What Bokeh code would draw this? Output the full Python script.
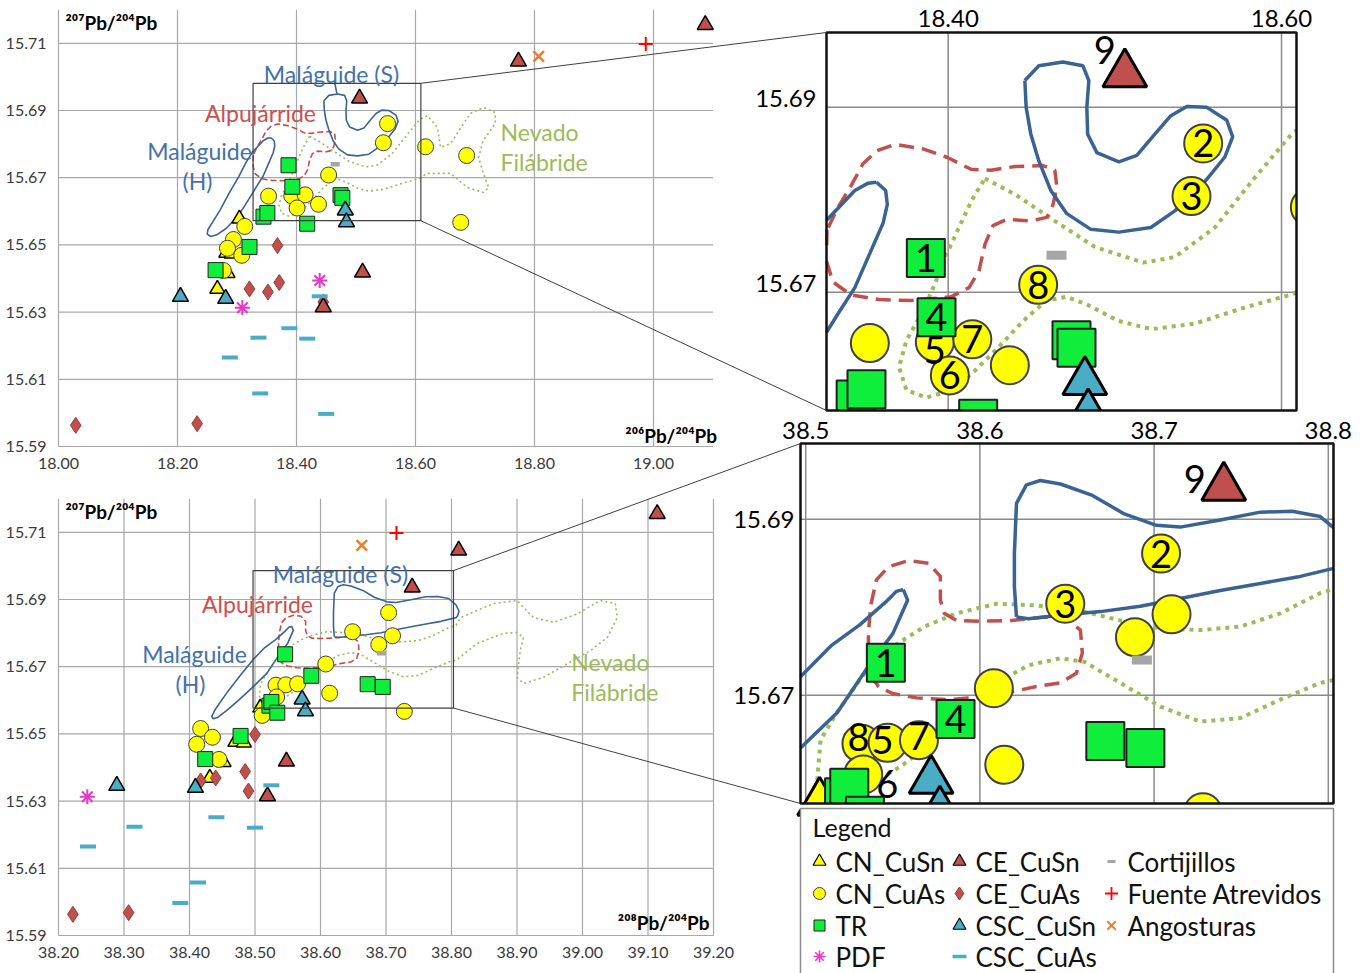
import numpy as np
from bokeh.plotting import figure
from bokeh.models import Range1d
from bokeh.core.properties import value
from bokeh.embed import file_html
from bokeh.resources import INLINE

# ------------------------------------------------------------------
# DATA  (206Pb/204Pb, 207Pb/204Pb, 208Pb/204Pb)
# ------------------------------------------------------------------
CN_CuSn_206 = [18.304, 18.284, 18.267, 18.282, 18.291]
CN_CuSn_207 = [15.6578, 15.6416, 15.6369, 15.6476, 15.6474]
CN_CuSn_208 = [38.508, 38.452, 38.431, 38.470, 38.483]

CN_CuAs_206 = [18.553, 18.546, 18.617, 18.686, 18.676, 18.454, 18.353, 18.392,
               18.4145, 18.401, 18.437, 18.313, 18.294, 18.284, 18.308, 18.277]
CN_CuAs_207 = [15.6861, 15.6804, 15.6792, 15.6766, 15.6567, 15.6708, 15.6645, 15.6646,
               15.6649, 15.6610, 15.6621, 15.6555, 15.6516, 15.6490, 15.6469, 15.6424]
CN_CuAs_208 = [38.704, 38.649, 38.710, 38.689, 38.728, 38.608, 38.532, 38.547,
               38.565, 38.533, 38.614, 38.511, 38.417, 38.435, 38.411, 38.445]

TR_206 = [18.3866, 18.393, 18.474, 18.477, 18.3445, 18.351, 18.418, 18.321, 18.264]
TR_207 = [15.6737, 15.6673, 15.6648, 15.6640, 15.6584, 15.6595, 15.6563, 15.6494, 15.6425]
TR_208 = [38.546, 38.586, 38.672, 38.695, 38.522, 38.525, 38.534, 38.478, 38.424]

PDF_206 = [18.309, 18.439]
PDF_207 = [15.6313, 15.6394]
PDF_208 = [38.244, float("nan")]

CE_CuSn_206 = [18.506, 18.773, 19.087, 18.511, 18.445]
CE_CuSn_207 = [15.6936, 15.7046, 15.7155, 15.6418, 15.6315]
CE_CuSn_208 = [38.740, 38.811, 39.114, 38.548, 38.519]

CE_CuAs_206 = [18.368, 18.321, 18.352, 18.371, 18.445, 18.029, 18.233]
CE_CuAs_207 = [15.6498, 15.6369, 15.6360, 15.6388, 15.6330, 15.5963, 15.5968]
CE_CuAs_208 = [38.500, 38.440, 38.417, 38.485, 38.490, 38.222, 38.307]

CSC_CuSn_206 = [18.205, 18.281, 18.482, 18.484]
CSC_CuSn_207 = [15.6346, 15.6340, 15.6603, 15.6568]
CSC_CuSn_208 = [38.289, 38.409, 38.572, 38.577]

CSC_CuAs_206 = [18.439, 18.388, 18.336, 18.418, 18.288, 18.339, 18.450]
CSC_CuAs_207 = [15.6347, 15.6252, 15.6224, 15.6221, 15.6165, 15.6058, 15.5997]
CSC_CuAs_208 = [38.525, 38.441, 38.316, 38.500, 38.245, 38.413, 38.386]

Cortijillos_206 = [18.465]
Cortijillos_207 = [15.6740]
Cortijillos_208 = [38.693]

Fuente_206 = [18.987]
Fuente_207 = [15.7098]
Fuente_208 = [38.716]

Angosturas_206 = [18.807]
Angosturas_207 = [15.7061]
Angosturas_208 = [38.663]

# tick values / labels
YTICKS = [15.59, 15.61, 15.63, 15.65, 15.67, 15.69, 15.71]
YLABELS = ["15.59", "15.61", "15.63", "15.65", "15.67", "15.69", "15.71"]
X206_TICKS = [18.0, 18.2, 18.4, 18.6, 18.8, 19.0]
X206_LABELS = ["18.00", "18.20", "18.40", "18.60", "18.80", "19.00"]
X208_TICKS = [38.2, 38.3, 38.4, 38.5, 38.6, 38.7, 38.8, 38.9, 39.0, 39.1, 39.2]
X208_LABELS = ["38.20", "38.30", "38.40", "38.50", "38.60", "38.70", "38.80",
               "38.90", "39.00", "39.10", "39.20"]
TR_XTICKS, TR_XLABELS = [18.40, 18.60], ["18.40", "18.60"]
BR_XTICKS, BR_XLABELS = [38.5, 38.6, 38.7, 38.8], ["38.5", "38.6", "38.7", "38.8"]
IN_YTICKS, IN_YLABELS = [15.69, 15.67], ["15.69", "15.67"]

# geological field outlines (206 vs 207)
T_MALH_X = [18.357, 18.3625, 18.3635, 18.361, 18.353, 18.344, 18.334, 18.323, 18.310, 18.296,
            18.281, 18.266, 18.256, 18.250, 18.251, 18.259, 18.272, 18.287, 18.303, 18.315,
            18.326, 18.3345, 18.344, 18.352, 18.357]
T_MALH_Y = [15.6819, 15.6810, 15.6795, 15.6775, 15.6742, 15.6705, 15.6677, 15.6645, 15.6608, 15.6575,
            15.6548, 15.6530, 15.6525, 15.6532, 15.6545, 15.6568, 15.6605, 15.6655, 15.6703, 15.6745,
            15.6776, 15.6792, 15.6810, 15.6818, 15.6819]
T_MALS_X = [18.446, 18.4544, 18.4688, 18.4808, 18.4844, 18.4832, 18.4837, 18.4892, 18.5024, 18.5132,
            18.524, 18.5336, 18.5432, 18.5552, 18.5672, 18.5707, 18.5659, 18.5528, 18.536, 18.5216,
            18.5024, 18.4856, 18.4712, 18.4616, 18.4544, 18.4496, 18.4468, 18.446]
T_MALS_Y = [15.6929, 15.6945, 15.6949, 15.6945, 15.6929, 15.6900, 15.6871, 15.6851, 15.6841, 15.6848,
            15.6871, 15.6891, 15.6901, 15.6900, 15.6886, 15.6868, 15.6846, 15.6817, 15.6788, 15.6770,
            15.6765, 15.6768, 15.6785, 15.6810, 15.6842, 15.6871, 15.6900, 15.6929]
T_ALP_X = [18.3273, 18.3269, 18.3309, 18.3417, 18.3585, 18.3777, 18.4017, 18.4125, 18.4185, 18.4221,
           18.4269, 18.4353, 18.4496, 18.4592, 18.4628, 18.4652, 18.464, 18.4568, 18.44, 18.4257,
           18.4137, 18.3993, 18.3849, 18.3681, 18.3573, 18.3489, 18.3417, 18.3333, 18.3273]
T_ALP_Y = [15.6767, 15.6734, 15.6711, 15.6697, 15.6692, 15.6691, 15.6695, 15.6705, 15.6723, 15.6752,
           15.6772, 15.6779, 15.6777, 15.6781, 15.6794, 15.6814, 15.6832, 15.6837, 15.6836, 15.6832,
           15.6833, 15.6846, 15.6855, 15.6860, 15.6853, 15.6839, 15.6815, 15.6790, 15.6767]
T_NEV_X = [18.422, 18.440, 18.464, 18.488, 18.517, 18.536, 18.560, 18.584, 18.607, 18.620,
           18.637, 18.642, 18.659, 18.692, 18.714, 18.734, 18.734, 18.714, 18.706, 18.714,
           18.723, 18.714, 18.687, 18.659, 18.620, 18.607, 18.579, 18.548, 18.522, 18.502,
           18.483, 18.471, 18.459, 18.445, 18.4305, 18.416, 18.402, 18.387, 18.375, 18.3705,
           18.375, 18.385, 18.392, 18.399, 18.4065, 18.414, 18.422]
T_NEV_Y = [15.6823, 15.6806, 15.6777, 15.6749, 15.6732, 15.6738, 15.6770, 15.6824, 15.6873, 15.6885,
           15.6849, 15.6790, 15.6802, 15.6891, 15.6909, 15.6894, 15.6861, 15.6811, 15.6760, 15.6713,
           15.6671, 15.6656, 15.6671, 15.6713, 15.6713, 15.6698, 15.6684, 15.6666, 15.6660, 15.6669,
           15.6687, 15.6695, 15.6691, 15.6669, 15.6641, 15.6615, 15.6594, 15.6586, 15.6594, 15.6619,
           15.6648, 15.6680, 15.6709, 15.6741, 15.6770, 15.6799, 15.6823]
T_LEADER_X = [18.4635, 18.468]
T_LEADER_Y = [15.6988, 15.6950]

# geological field outlines (208 vs 207)
B_MALH_X = [38.556, 38.5585, 38.550, 38.536, 38.518, 38.497, 38.476, 38.457, 38.443, 38.436,
            38.434, 38.440, 38.458, 38.478, 38.497, 38.515, 38.531, 38.546, 38.552, 38.556]
B_MALH_Y = [15.6820, 15.6808, 15.6770, 15.6733, 15.6680, 15.6640, 15.6602, 15.6570, 15.6549, 15.6545,
            15.6552, 15.6575, 15.6625, 15.6675, 15.6721, 15.6757, 15.6780, 15.6806, 15.6818, 15.6820]
B_MALS_X = [38.621, 38.6198, 38.6198, 38.621, 38.6267, 38.6347, 38.6462, 38.6646, 38.6829, 38.7013,
            38.715, 38.738, 38.761, 38.7793, 38.7954, 38.8069, 38.8115, 38.809, 38.8069, 38.7839,
            38.761, 38.738, 38.715, 38.6921, 38.6692, 38.6462, 38.6278, 38.621]
B_MALS_Y = [15.6789, 15.6823, 15.6861, 15.6918, 15.6939, 15.6944, 15.6940, 15.6927, 15.6906, 15.6893,
            15.6891, 15.6899, 15.6908, 15.6909, 15.6903, 15.6884, 15.6865, 15.6850, 15.6846, 15.6835,
            15.6827, 15.6819, 15.6810, 15.6801, 15.6795, 15.6791, 15.6787, 15.6789]
B_ALP_X = [38.536, 38.536, 38.5372, 38.5406, 38.5475, 38.559, 38.5705, 38.5773, 38.5773, 38.5796,
           38.5865, 38.6003, 38.6187, 38.637, 38.6508, 38.6577, 38.6588, 38.6554, 38.6462, 38.6324,
           38.6187, 38.6003, 38.5819, 38.5636, 38.5498, 38.5418, 38.536]
B_ALP_Y = [15.6725, 15.6770, 15.6801, 15.6831, 15.6846, 15.6853, 15.6850, 15.6835, 15.6808, 15.6793,
           15.6785, 15.6784, 15.6785, 15.6789, 15.6785, 15.6774, 15.6748, 15.6725, 15.6714, 15.6710,
           15.6704, 15.6698, 15.6695, 15.6697, 15.6702, 15.6710, 15.6725]
B_NEV_X = [38.5062, 38.5085, 38.5177, 38.5337, 38.5498, 38.5682, 38.5865, 38.6095, 38.6324, 38.6554,
           38.6806, 38.7036, 38.7265, 38.7495, 38.7724, 38.7954, 38.8069, 38.814, 38.864, 38.900,
           38.925, 38.956, 38.992, 39.027, 39.050, 39.053, 39.038, 39.012, 38.977, 38.940,
           38.910, 38.900, 38.905, 38.910, 38.900, 38.879, 38.839, 38.8069, 38.7954, 38.7724,
           38.7495, 38.7265, 38.7036, 38.6806, 38.660, 38.6462, 38.6278, 38.6095, 38.5911, 38.5728,
           38.5544, 38.5383, 38.5223, 38.5085, 38.5062]
B_NEV_Y = [15.6593, 15.6649, 15.6680, 15.6725, 15.6755, 15.6778, 15.6793, 15.6804, 15.6802, 15.6797,
           15.6785, 15.6776, 15.6774, 15.6778, 15.6793, 15.6816, 15.6823, 15.6846, 15.6888, 15.6897,
           15.6846, 15.6832, 15.6857, 15.6897, 15.6888, 15.6846, 15.6787, 15.6748, 15.6709, 15.6668,
           15.6650, 15.6668, 15.6748, 15.6787, 15.6802, 15.6799, 15.6769, 15.6719, 15.6714, 15.6695,
           15.6674, 15.6670, 15.6687, 15.6714, 15.6738, 15.6742, 15.6734, 15.6714, 15.6680, 15.6646,
           15.6619, 15.6600, 15.6591, 15.6593, 15.6593]

# field names (text, x, y, colour key, alignment)
TOP_REGIONS = [("Maláguide (S)", 18.4588, 15.7010, "blue", "center"),
               ("Alpujárride", 18.3395, 15.6894, "red", "center"),
               ("Maláguide", 18.237, 15.6778, "blue", "center"),
               ("(H)", 18.2336, 15.6689, "blue", "center"),
               ("Nevado", 18.743, 15.6835, "green", "left"),
               ("Filábride", 18.743, 15.6748, "green", "left")]
BOT_REGIONS = [("Maláguide (S)", 38.6305, 15.6977, "blue", "center"),
               ("Alpujárride", 38.5038, 15.6888, "red", "center"),
               ("Maláguide", 38.4076, 15.6739, "blue", "center"),
               ("(H)", 38.4015, 15.6650, "blue", "center"),
               ("Nevado", 38.983, 15.6713, "green", "left"),
               ("Filábride", 38.983, 15.6626, "green", "left")]

# numbered samples in the zoomed views: (series, index)
TR_REFS = [("TR", 0), ("CN_CuAs", 0), ("CN_CuAs", 1), ("TR", 1), ("CN_CuAs", 7),
           ("CN_CuAs", 9), ("CN_CuAs", 8), ("CN_CuAs", 5), ("CE_CuSn", 0)]
BR_REFS = [("TR", 0), ("CN_CuAs", 0), ("CN_CuAs", 1), ("TR", 1), ("CN_CuAs", 7),
           ("CN_CuAs", 9), ("CN_CuAs", 8), ("CN_CuAs", 6), ("CE_CuSn", 0)]

LEGEND_COLS = [["CN_CuSn", "CN_CuAs", "TR", "PDF"],
               ["CE_CuSn", "CE_CuAs", "CSC_CuSn", "CSC_CuAs"],
               ["Cortijillos", "Fuente Atrevidos", "Angosturas"]]

DATA = {
    "CN_CuSn": (CN_CuSn_206, CN_CuSn_207, CN_CuSn_208),
    "CN_CuAs": (CN_CuAs_206, CN_CuAs_207, CN_CuAs_208),
    "TR": (TR_206, TR_207, TR_208),
    "PDF": (PDF_206, PDF_207, PDF_208),
    "CE_CuSn": (CE_CuSn_206, CE_CuSn_207, CE_CuSn_208),
    "CE_CuAs": (CE_CuAs_206, CE_CuAs_207, CE_CuAs_208),
    "CSC_CuSn": (CSC_CuSn_206, CSC_CuSn_207, CSC_CuSn_208),
    "CSC_CuAs": (CSC_CuAs_206, CSC_CuAs_207, CSC_CuAs_208),
    "Cortijillos": (Cortijillos_206, Cortijillos_207, Cortijillos_208),
    "Fuente Atrevidos": (Fuente_206, Fuente_207, Fuente_208),
    "Angosturas": (Angosturas_206, Angosturas_207, Angosturas_208),
}
DRAW_ORDER = ["CN_CuSn", "CN_CuAs", "TR", "PDF", "CE_CuAs", "CE_CuSn", "CSC_CuSn",
              "CSC_CuAs", "Cortijillos", "Fuente Atrevidos", "Angosturas"]

# ------------------------------------------------------------------
# STYLE / LAYOUT
# ------------------------------------------------------------------
FONT = "Lato"
BLUE, RED, GREEN = "#3A6393", "#C0504D", "#9BBB59"
REGION_COLORS = {"blue": "#4471A9", "red": "#CD504C", "green": "#9BBB59"}
GRID_MAIN, GRID_INSET, TICK_COLOR = "#A8A8A8", "#8A8A8A", "#3A3A3A"

STYLE = {
    "CN_CuSn": dict(marker="triangle", fill="#FFFF00", line="#000000", size=15, lw=1.5, isize=44, ilw=3, lsize=13, llw=1.2),
    "CN_CuAs": dict(marker="circle", fill="#FFFF00", line="#404040", size=16, lw=1, isize=38, ilw=2, lsize=12, llw=1),
    "TR": dict(marker="square", fill="#10EE3C", line="#202020", size=15, lw=1, isize=38, ilw=2, lsize=11, llw=1),
    "PDF": dict(marker="asterisk", fill=None, line="#E23CC6", size=15, lw=2, isize=30, ilw=3, lsize=12, llw=1.6),
    "CE_CuAs": dict(marker="diamond", fill="#C0504D", line="#9A3A37", size=16, lw=1, isize=36, ilw=1.5, lsize=13, llw=1),
    "CE_CuSn": dict(marker="triangle", fill="#C0504D", line="#000000", size=16, lw=1.5, isize=44, ilw=3, lsize=13, llw=1.2),
    "CSC_CuSn": dict(marker="triangle", fill="#4BACC6", line="#000000", size=16, lw=1.5, isize=44, ilw=3, lsize=13, llw=1.2),
    "CSC_CuAs": dict(marker="dash", fill=None, line="#4BACC6", size=16, lw=4, isize=36, ilw=8, lsize=14, llw=3.5),
    "Cortijillos": dict(marker="dash", fill=None, line="#A5A5A5", size=9, lw=4.5, isize=20, ilw=9, lsize=8, llw=3),
    "Fuente Atrevidos": dict(marker="cross", fill=None, line="#FF0000", size=14, lw=2, isize=30, ilw=3, lsize=13, llw=1.8),
    "Angosturas": dict(marker="x", fill=None, line="#F07D22", size=15, lw=2.5, isize=30, ilw=3, lsize=12, llw=1.8),
}
SHAPE_MAIN = {"MalH": dict(line_color=BLUE, line_width=1.6),
              "MalS": dict(line_color=BLUE, line_width=1.6),
              "Alp": dict(line_color=RED, line_width=1.6, line_dash="6 3"),
              "Nev": dict(line_color=GREEN, line_width=1.6, line_dash="2 3")}
SHAPE_INSET = {"MalH": dict(line_color=BLUE, line_width=3.5),
               "MalS": dict(line_color=BLUE, line_width=3.5),
               "Alp": dict(line_color=RED, line_width=3.5, line_dash="15 8"),
               "Nev": dict(line_color=GREEN, line_width=4, line_dash="4 5")}

# panel frames in page pixels
PANELS = {
    "TL": dict(xs=(18.00, 19.10), ys=(15.59, 15.72), px=(58, 712.5), py=(446, 9.2)),
    "BL": dict(xs=(38.20, 39.20), ys=(15.59, 15.72), px=(58, 713), py=(935, 498.2)),
    "TR": dict(xs=(18.327, 18.609), ys=(15.6572, 15.6981), px=(826, 1296), py=(410, 32)),
    "BR": dict(xs=(38.497, 38.803), ys=(15.6577, 15.6986), px=(800, 1333), py=(803, 443)),
}
TR_OFFS = {"9": (-20, -24), "5": (0, 8)}
BR_OFFS = {"9": (-29, -9), "6": (24, 10), "8": (-3, -7), "5": (-5, -3), "7": (0, -4)}

W, H = 1360, 973
p = figure(width=W, height=H, x_range=Range1d(start=0, end=W),
           y_range=Range1d(start=H, end=0), output_backend="svg",
           toolbar_location=None, x_axis_location=None, y_axis_location=None,
           min_border=0, background_fill_color="white", border_fill_color="white",
           outline_line_color=None)
p.grid.visible = False


def make_sub(P):
    return p.subplot(x_source=Range1d(start=P["xs"][0], end=P["xs"][1]),
                     y_source=Range1d(start=P["ys"][0], end=P["ys"][1]),
                     x_target=Range1d(start=P["px"][0], end=P["px"][1]),
                     y_target=Range1d(start=P["py"][0], end=P["py"][1]))


def to_page(P, x, y):
    (xa, xb), (ya, yb) = P["xs"], P["ys"]
    (pa, pb), (qa, qb) = P["px"], P["py"]
    return pa + (x - xa) * (pb - pa) / (xb - xa), qa + (y - ya) * (qb - qa) / (yb - ya)


def ppx_ppy(P):
    return (abs(P["px"][1] - P["px"][0]) / (P["xs"][1] - P["xs"][0]),
            abs(P["py"][1] - P["py"][0]) / (P["ys"][1] - P["ys"][0]))


def xy(name, which):
    a, b, c = (np.asarray(v, dtype=float) for v in DATA[name])
    return (a, b) if which == 206 else (c, b)


def clip_polyline(xs, ys, x0, x1, y0, y1):
    pieces, cur = [], None
    for i in range(len(xs) - 1):
        ax, ay, bx, by = xs[i], ys[i], xs[i + 1], ys[i + 1]
        dx, dy = bx - ax, by - ay
        t0, t1, ok = 0.0, 1.0, True
        for pp, qq in ((-dx, ax - x0), (dx, x1 - ax), (-dy, ay - y0), (dy, y1 - ay)):
            if pp == 0:
                if qq < 0:
                    ok = False
                    break
            else:
                r = qq / pp
                if pp < 0:
                    if r > t1:
                        ok = False
                        break
                    t0 = max(t0, r)
                else:
                    if r < t0:
                        ok = False
                        break
                    t1 = min(t1, r)
        if not ok:
            cur = None
            continue
        if cur is None or t0 > 0:
            cur = ([ax + t0 * dx], [ay + t0 * dy])
            pieces.append(cur)
        cur[0].append(ax + t1 * dx)
        cur[1].append(ay + t1 * dy)
        if t1 < 1:
            cur = None
    return [c[0] for c in pieces], [c[1] for c in pieces]


def txt(sp, x, y, t, size, color="#000000", align="center", baseline="middle",
        dx=0, dy=0, style="normal"):
    sp.text(x=x, y=y, text=t, x_offset=dx, y_offset=dy, text_align=align,
            text_baseline=baseline, text_font=value(FONT), text_font_size=size,
            text_color=color, text_font_style=style)


def draw_main(key, inset_key, which, xticks, xlabels, shapes, regions, ytitle, xtitle,
              xt_dx, xt_dy, leader=None):
    P, Q = PANELS[key], PANELS[inset_key]
    sp = make_sub(P)
    (xa, xb), (ya, yb) = P["xs"], P["ys"]
    nx, ny = len(xticks), len(YTICKS)
    sp.segment(x0=xticks, y0=[ya] * nx, x1=xticks, y1=[yb] * nx, line_color=GRID_MAIN, line_width=1.2)
    sp.segment(x0=[xa] * ny, y0=YTICKS, x1=[xb] * ny, y1=YTICKS, line_color=GRID_MAIN, line_width=1.2)
    txt(sp, [xa] * ny, YTICKS, YLABELS, "16px", TICK_COLOR, "right", "middle", dx=-12)
    txt(sp, xticks, [ya] * nx, xlabels, "16px", TICK_COLOR, "center", "top", dy=11)
    for nm, (sx, sy) in shapes.items():
        sp.line(x=sx, y=sy, **SHAPE_MAIN[nm])
    if leader is not None:
        sp.line(x=leader[0], y=leader[1], **SHAPE_MAIN["MalS"])
    for s in DRAW_ORDER:
        x, y = xy(s, which)
        st = STYLE[s]
        sp.scatter(x=x, y=y, marker=st["marker"], size=st["size"], fill_color=st["fill"],
                   line_color=st["line"], line_width=st["lw"])
    sp.quad(left=[Q["xs"][0]], right=[Q["xs"][1]], bottom=[Q["ys"][0]], top=[Q["ys"][1]],
            fill_color=None, line_color="#404040", line_width=1.2)
    for (t, tx, ty, col, al) in regions:
        txt(sp, [tx], [ty], [t], "23px", REGION_COLORS[col], al, "middle")
    txt(sp, [xa], [yb], [ytitle], "19px", "#000000", "left", "middle", dx=7, dy=13, style="bold")
    txt(sp, [xb], [ya], [xtitle], "19px", "#000000", "right", "middle", dx=xt_dx, dy=xt_dy, style="bold")
    return sp


def draw_inset(key, which, vx, shapes, refs, offs):
    P = PANELS[key]
    sp = make_sub(P)
    (xa, xb), (ya, yb) = P["xs"], P["ys"]
    sp.segment(x0=vx, y0=[ya] * len(vx), x1=vx, y1=[yb] * len(vx), line_color=GRID_INSET, line_width=1.5)
    sp.segment(x0=[xa] * 2, y0=IN_YTICKS, x1=[xb] * 2, y1=IN_YTICKS, line_color=GRID_INSET, line_width=1.5)
    for nm, (sx, sy) in shapes.items():
        cx, cy = clip_polyline(sx, sy, xa, xb, ya, yb)
        if cx:
            sp.multi_line(xs=cx, ys=cy, **SHAPE_INSET[nm])
    kx, ky = ppx_ppy(P)
    for s in DRAW_ORDER:
        x, y = xy(s, which)
        st = STYLE[s]
        pad = st["isize"] / 2 + 2
        m = (x >= xa - pad / kx) & (x <= xb + pad / kx) & (y >= ya - pad / ky) & (y <= yb + pad / ky)
        if m.any():
            sp.scatter(x=x[m], y=y[m], marker=st["marker"], size=st["isize"], fill_color=st["fill"],
                       line_color=st["line"], line_width=st["ilw"])
    lx, ly, lt, dx, dy = [], [], [], [], []
    for i, (s, idx) in enumerate(refs):
        x, y = xy(s, which)
        lab = str(i + 1)
        o = offs.get(lab, (0, 0))
        lx.append(float(x[idx])); ly.append(float(y[idx])); lt.append(lab)
        dx.append(o[0]); dy.append(o[1])
    sp.text(x=lx, y=ly, text=lt, x_offset=dx, y_offset=dy, text_align="center",
            text_baseline="middle", text_font=value(FONT), text_font_size="38px",
            text_color="#000000")
    return sp


top_shapes = {"Nev": (T_NEV_X, T_NEV_Y), "Alp": (T_ALP_X, T_ALP_Y),
              "MalH": (T_MALH_X, T_MALH_Y), "MalS": (T_MALS_X, T_MALS_Y)}
bot_shapes = {"Nev": (B_NEV_X, B_NEV_Y), "Alp": (B_ALP_X, B_ALP_Y),
              "MalH": (B_MALH_X, B_MALH_Y), "MalS": (B_MALS_X, B_MALS_Y)}

draw_main("TL", "TR", 206, X206_TICKS, X206_LABELS, top_shapes, TOP_REGIONS,
          "²⁰⁷Pb/²⁰⁴Pb", "²⁰⁶Pb/²⁰⁴Pb", 4, -11, leader=(T_LEADER_X, T_LEADER_Y))
draw_main("BL", "BR", 208, X208_TICKS, X208_LABELS, bot_shapes, BOT_REGIONS,
          "²⁰⁷Pb/²⁰⁴Pb", "²⁰⁸Pb/²⁰⁴Pb", -4, -13)

sp_tr = draw_inset("TR", 206, TR_XTICKS, top_shapes, TR_REFS, TR_OFFS)
sp_br = draw_inset("BR", 208, BR_XTICKS, bot_shapes, BR_REFS, BR_OFFS)

# white masks so that markers stop at the inset frames
for sp, key, bpad in ((sp_tr, "TR", 32), (sp_br, "BR", 6)):
    P = PANELS[key]
    (xa, xb), (ya, yb) = P["xs"], P["ys"]
    kx, ky = ppx_ppy(P)
    sp.quad(left=[xb + 0.5 / kx, xa - 1 / kx], right=[xb + 120 / kx, xb + 120 / kx],
            bottom=[ya - bpad / ky, ya - bpad / ky], top=[yb + 3 / ky, ya - 0.5 / ky],
            fill_color="white", line_color=None)

# inset frames and tick labels
for sp, key in ((sp_tr, "TR"), (sp_br, "BR")):
    P = PANELS[key]
    sp.quad(left=[P["xs"][0]], right=[P["xs"][1]], bottom=[P["ys"][0]], top=[P["ys"][1]],
            fill_color=None, line_color="#111111", line_width=2.5)
txt(sp_tr, TR_XTICKS, [PANELS["TR"]["ys"][1]] * 2, TR_XLABELS, "24px", "#000000", "center", "middle", dy=-14)
txt(sp_tr, [PANELS["TR"]["xs"][0]] * 2, IN_YTICKS, IN_YLABELS, "24px", "#000000", "right", "middle", dx=-10, dy=-9)
txt(sp_br, BR_XTICKS, [PANELS["BR"]["ys"][1]] * 4, BR_XLABELS, "24px", "#000000", "center", "middle", dy=-13)
txt(sp_br, [PANELS["BR"]["xs"][0]] * 2, IN_YTICKS, IN_YLABELS, "24px", "#000000", "right", "middle", dx=-6)

# connector lines between zoom rectangles and enlarged views
cx0, cy0, cx1, cy1 = [], [], [], []
for mk, ik in (("TL", "TR"), ("BL", "BR")):
    P, Q = PANELS[mk], PANELS[ik]
    for yv in (Q["ys"][1], Q["ys"][0]):
        a = to_page(P, Q["xs"][1], yv)
        b = to_page(Q, Q["xs"][0], yv)
        cx0.append(a[0]); cy0.append(a[1]); cx1.append(b[0]); cy1.append(b[1])
p.segment(x0=cx0, y0=cy0, x1=cx1, y1=cy1, line_color="#404040", line_width=1)

# legend
LEG_BOX = (800, 1333, 808, 995)
LEG_TEXT_X = [835, 975, 1127]
LEG_ROW_Y = [861, 893, 925, 956]
p.quad(left=[LEG_BOX[0]], right=[LEG_BOX[1]], top=[LEG_BOX[2]], bottom=[LEG_BOX[3]],
       fill_color="white", line_color="#8C8C8C", line_width=1.5)
txt(p, [LEG_BOX[0] + 12], [826], ["Legend"], "25px", "#111111", "left", "middle")
for c, col in enumerate(LEGEND_COLS):
    for r, s in enumerate(col):
        st = STYLE[s]
        p.scatter(x=[LEG_TEXT_X[c] - 16], y=[LEG_ROW_Y[r]], marker=st["marker"], size=st["lsize"],
                  fill_color=st["fill"], line_color=st["line"], line_width=st["llw"])
        txt(p, [LEG_TEXT_X[c]], [LEG_ROW_Y[r]], [s], "26px", "#111111", "left", "middle")

open("out.html", "w").write(file_html(p, INLINE, title="Pb isotope ratios"))
